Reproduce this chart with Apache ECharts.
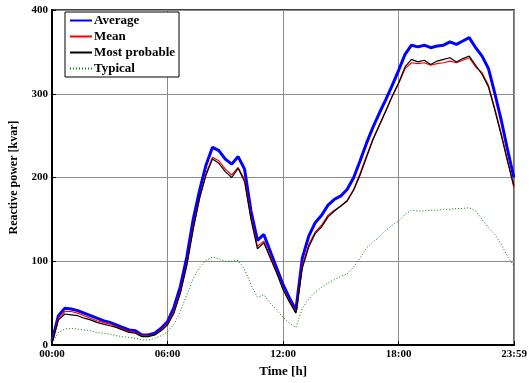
<!DOCTYPE html>
<html>
<head>
<meta charset="utf-8">
<script src="https://cdn.jsdelivr.net/npm/echarts@6/dist/echarts.min.js"></script>
<style>
html,body{margin:0;padding:0;background:#fff;}
#chart{width:530px;height:383px;}
</style>
</head>
<body>
<div id="chart"></div>
<script>
// Time of day in minutes
var timeMin = [0,20,40,60,80,100,120,140,160,180,200,220,240,260,280,300,320,340,360,380,400,420,440,460,480,500,520,540,560,580,600,620,640,660,680,700,720,740,760,780,800,820,840,860,880,900,920,940,960,980,1000,1020,1040,1060,1080,1100,1120,1140,1160,1180,1200,1220,1240,1260,1280,1300,1320,1340,1360,1380,1400,1420,1439];

var average = [5,35,44,43,41,38,35,32,29,27,24,21,18,17,12,12,14,20,28,45,70,105,150,185,215,236,232,222,216,225,210,160,125,132,112,92,72,56,42,104,130,146,155,167,174,178,186,200,220,241,260,277,293,310,328,347,358,356,358,355,357,358,362,359,363,367,355,345,330,300,268,232,200];

var mean = [4,32,40,40,38,35,32,29,27,25,22,19,16,15,11,11,12,18,25,40,63,96,140,175,205,224,220,210,203,212,198,152,118,124,106,87,67,52,39,95,120,135,143,155,161,166,173,186,205,226,246,263,280,297,312,330,337,336,337,334,336,337,339,337,340,343,332,325,310,282,252,220,188];

var mostProbable = [3,30,37,36,35,32,30,27,25,23,21,18,15,14,10,10,12,17,24,38,62,95,138,176,203,222,217,207,200,211,195,150,115,122,104,86,66,51,38,92,117,133,141,153,160,166,172,185,203,224,245,262,279,297,313,332,341,338,340,335,339,341,343,338,342,345,334,323,308,280,250,218,190];

var typical = [2,15,19,20,19,18,17,15,14,13,11,10,9,8,6,6,8,11,16,25,40,60,79,93,101,105,103,100,100,101,90,72,57,60,50,42,33,26,21,44,55,63,69,74,78,82,85,93,104,116,123,129,137,143,148,156,161,160,160,161,161,162,162,163,163,164,160,150,140,132,120,105,95];

var xTickLabels = ['00:00','06:00','12:00','18:00','23:59'];
var seriesNames = ['Average','Mean','Most probable','Typical'];

function pairs(vals){ return timeMin.map(function(t,i){ return [t, vals[i]]; }); }

var font = '"Liberation Serif", "Times New Roman", serif';
var chart = echarts.init(document.getElementById('chart'), null, {renderer:'canvas'});
chart.setOption({
  animation:false,
  backgroundColor:'#fff',
  grid:{left:49,right:13,top:10,bottom:30,show:true,borderColor:'#000',borderWidth:1.5,backgroundColor:'transparent'},
  legend:{
    orient:'vertical', left:65, top:12,
    backgroundColor:'#fff', borderColor:'#000', borderWidth:1,
    padding:[2,4,2,4], itemGap:3, itemWidth:22, itemHeight:12,
    itemStyle:{opacity:0},
    textStyle:{fontFamily:font,fontWeight:'bold',fontSize:13,color:'#000',padding:[0,0,0,-3]},
    data:seriesNames
  },
  xAxis:{
    type:'value', min:0, max:1440, interval:360,
    name:'Time [h]', nameLocation:'middle', nameGap:20,
    nameTextStyle:{fontFamily:font,fontWeight:'bold',fontSize:13,color:'#000'},
    axisLine:{show:true,lineStyle:{color:'#000',width:2}},
    axisTick:{show:true,inside:true,length:4,lineStyle:{color:'#000'}},
    axisLabel:{fontFamily:font,fontWeight:'bold',fontSize:11,color:'#000',margin:4,
      formatter:function(v){ return xTickLabels[Math.round(v/360)]; }},
    splitLine:{show:true,lineStyle:{color:'#8c8c8c',width:1}}
  },
  yAxis:{
    type:'value', min:0, max:400, interval:100,
    name:'Reactive power [kvar]', nameLocation:'middle', nameGap:32,
    nameTextStyle:{fontFamily:font,fontWeight:'bold',fontSize:12,color:'#000'},
    axisLine:{show:true,lineStyle:{color:'#000',width:2}},
    axisTick:{show:true,inside:true,length:4,lineStyle:{color:'#000'}},
    axisLabel:{fontFamily:font,fontWeight:'bold',fontSize:11,color:'#000',margin:4},
    splitLine:{show:true,lineStyle:{color:'#8c8c8c',width:1}}
  },
  series:[
    {name:'Average',type:'line',symbol:'none',data:pairs(average),lineStyle:{color:'#0000ff',width:3},itemStyle:{color:'#0000ff'}},
    {name:'Mean',type:'line',symbol:'none',data:pairs(mean),lineStyle:{color:'#ff0000',width:1.2},itemStyle:{color:'#ff0000'}},
    {name:'Most probable',type:'line',symbol:'none',data:pairs(mostProbable),lineStyle:{color:'#000000',width:1.2},itemStyle:{color:'#000000'}},
    {name:'Typical',type:'line',symbol:'none',data:pairs(typical),lineStyle:{color:'#008000',width:1,type:[1,2]},itemStyle:{color:'#008000'}}
  ]
});
</script>
</body>
</html>
